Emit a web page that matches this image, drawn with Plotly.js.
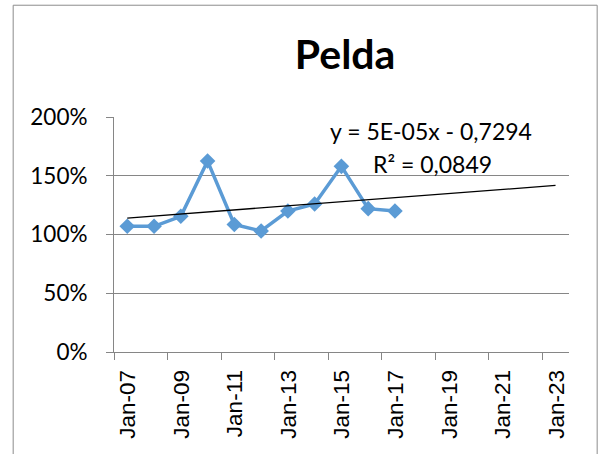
<!DOCTYPE html>
<html>
<head>
<meta charset="utf-8">
<script src="https://cdn.plot.ly/plotly-3.0.1.min.js"></script>
<style>
  html, body { margin: 0; padding: 0; background: #ffffff; }
  #chart { width: 599px; height: 454px; }
</style>
</head>
<body>
<div id="chart"></div>
<script>
// ---- Data ----
const dates = ['2007-07-01','2008-07-01','2009-07-01','2010-07-01','2011-07-01','2012-07-01',
               '2013-07-01','2014-07-01','2015-07-01','2016-07-01','2017-07-01'];
const values = [1.07, 1.07, 1.155, 1.625, 1.085, 1.03, 1.20, 1.26, 1.58, 1.22, 1.20];
const trendEndDate = '2023-07-01';
const chartTitle = 'Pelda';
const equationText = 'y = 5E-05x - 0,7294';
const r2Text = 'R² = 0,0849';

// ---- Linear trendline (least squares on date values) ----
const xs = dates.map(d => new Date(d).getTime());
const n = xs.length;
const mx = xs.reduce((a, b) => a + b, 0) / n;
const my = values.reduce((a, b) => a + b, 0) / n;
let sxy = 0, sxx = 0;
for (let i = 0; i < n; i++) { sxy += (xs[i] - mx) * (values[i] - my); sxx += (xs[i] - mx) * (xs[i] - mx); }
const slope = sxy / sxx;
const intercept = my - slope * mx;
const trendX = [dates[0], trendEndDate];
const trendY = trendX.map(d => intercept + slope * new Date(d).getTime());

const gridColor = '#868686';

const traces = [
  {
    x: dates, y: values, type: 'scatter', mode: 'lines+markers',
    line: { color: '#5B9BD5', width: 3.5 },
    marker: { symbol: 'diamond', size: 12, color: '#5B9BD5' },
    hoverinfo: 'x+y'
  },
  {
    x: trendX, y: trendY, type: 'scatter', mode: 'lines',
    line: { color: '#000000', width: 1.3 },
    hoverinfo: 'skip'
  }
];

const layout = {
  width: 599, height: 454,
  margin: { l: 113.5, r: 29.7, t: 117, b: 101.5, pad: 0 },
  paper_bgcolor: '#ffffff', plot_bgcolor: '#ffffff',
  showlegend: false,
  title: {
    text: '<b>' + chartTitle + '</b>',
    font: { family: 'Lato, sans-serif', size: 41, color: '#000000' },
    x: 0.508, xanchor: 'center', xref: 'paper',
    y: 0.88, yanchor: 'middle', yref: 'container'
  },
  xaxis: {
    type: 'date',
    range: ['2007-01-01', '2024-01-01'],
    tick0: '2007-01-01', dtick: 'M24',
    tickformat: '%b-%y',
    tickangle: -90,
    ticks: 'outside', ticklen: 7, tickcolor: gridColor, tickwidth: 1,
    showline: true, linecolor: gridColor, linewidth: 1,
    showgrid: false, zeroline: false,
    ticklabelshift: 14,
    ticklabelstandoff: 1,
    tickfont: { family: 'Liberation Sans, Arial, sans-serif', size: 22.5, color: '#000000' }
  },
  yaxis: {
    range: [0, 2],
    tickvals: [0, 0.5, 1, 1.5, 2],
    tickformat: '.0%',
    ticks: 'outside', ticklen: 7, tickcolor: gridColor, tickwidth: 1,
    showline: true, linecolor: gridColor, linewidth: 1,
    showgrid: true, gridcolor: gridColor, gridwidth: 1,
    zeroline: false,
    ticklabelstandoff: 14,
    tickfont: { family: 'Lato, sans-serif', size: 22.5, color: '#000000' }
  },
  annotations: [
    {
      text: equationText, xref: 'paper', yref: 'paper',
      x: 0.697, y: 0.94, xanchor: 'center', yanchor: 'middle', showarrow: false,
      font: { family: 'Lato, sans-serif', size: 23, color: '#000000' }
    },
    {
      text: r2Text, xref: 'paper', yref: 'paper',
      x: 0.699, y: 0.80, xanchor: 'center', yanchor: 'middle', showarrow: false,
      font: { family: 'Lato, sans-serif', size: 23, color: '#000000' }
    }
  ],
  shapes: [
    {
      type: 'rect', xref: 'paper', yref: 'paper',
      x0: -0.2216, x1: 1.0619, y0: -0.5, y1: 1.4756,
      line: { color: '#8c8c8c', width: 1 }, fillcolor: 'rgba(0,0,0,0)', layer: 'below'
    }
  ]
};

Plotly.newPlot('chart', traces, layout, { displayModeBar: false, staticPlot: true });
</script>
</body>
</html>
